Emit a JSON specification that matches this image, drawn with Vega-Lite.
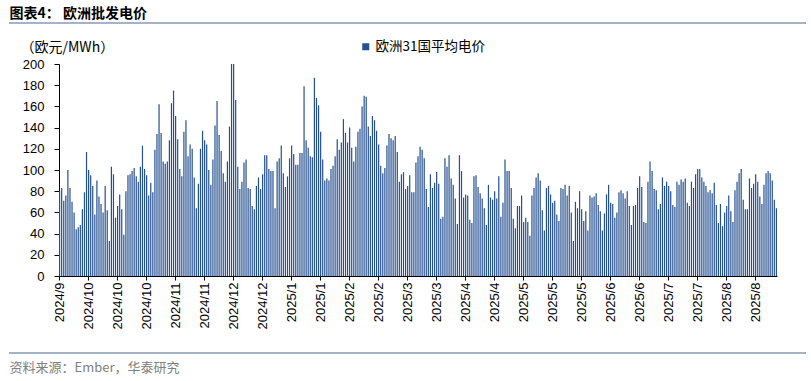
{
  "$schema": "https://vega.github.io/schema/vega-lite/v6.json",
  "background": "white",
  "padding": {"left": 8, "right": 8, "top": 5, "bottom": 2},
  "config": {
    "view": {"stroke": null},
    "axis": {"grid": false},
    "font": "Liberation Sans"
  },
  "datasets": {
    "price": [
      {"d":"2024-09-19","v":80},{"d":"2024-09-20","v":83},{"d":"2024-09-21","v":71},{"d":"2024-09-22","v":76},{"d":"2024-09-23","v":100},{"d":"2024-09-24","v":83},{"d":"2024-09-25","v":70},{"d":"2024-09-26","v":60},{"d":"2024-09-27","v":44},{"d":"2024-09-28","v":46},{"d":"2024-09-29","v":48},{"d":"2024-09-30","v":63},
      {"d":"2024-10-01","v":79},{"d":"2024-10-02","v":117},{"d":"2024-10-03","v":100},{"d":"2024-10-04","v":95},{"d":"2024-10-05","v":85},{"d":"2024-10-06","v":58},{"d":"2024-10-07","v":90},{"d":"2024-10-08","v":75},{"d":"2024-10-09","v":68},{"d":"2024-10-10","v":60},{"d":"2024-10-11","v":85},{"d":"2024-10-12","v":62},{"d":"2024-10-13","v":33},{"d":"2024-10-14","v":103},{"d":"2024-10-15","v":96},{"d":"2024-10-16","v":55},{"d":"2024-10-17","v":66},{"d":"2024-10-18","v":77},{"d":"2024-10-19","v":63},{"d":"2024-10-20","v":39},{"d":"2024-10-21","v":80},{"d":"2024-10-22","v":95},{"d":"2024-10-23","v":96},{"d":"2024-10-24","v":99},{"d":"2024-10-25","v":102},{"d":"2024-10-26","v":94},{"d":"2024-10-27","v":89},{"d":"2024-10-28","v":103},{"d":"2024-10-29","v":123},{"d":"2024-10-30","v":101},{"d":"2024-10-31","v":95},
      {"d":"2024-11-01","v":76},{"d":"2024-11-02","v":88},{"d":"2024-11-03","v":79},{"d":"2024-11-04","v":119},{"d":"2024-11-05","v":134},{"d":"2024-11-06","v":162},{"d":"2024-11-07","v":135},{"d":"2024-11-08","v":108},{"d":"2024-11-09","v":106},{"d":"2024-11-10","v":108},{"d":"2024-11-11","v":128},{"d":"2024-11-12","v":163},{"d":"2024-11-13","v":175},{"d":"2024-11-14","v":151},{"d":"2024-11-15","v":129},{"d":"2024-11-16","v":101},{"d":"2024-11-17","v":94},{"d":"2024-11-18","v":136},{"d":"2024-11-19","v":147},{"d":"2024-11-20","v":113},{"d":"2024-11-21","v":124},{"d":"2024-11-22","v":120},{"d":"2024-11-23","v":93},{"d":"2024-11-24","v":64},{"d":"2024-11-25","v":87},{"d":"2024-11-26","v":120},{"d":"2024-11-27","v":137},{"d":"2024-11-28","v":128},{"d":"2024-11-29","v":124},{"d":"2024-11-30","v":100},
      {"d":"2024-12-01","v":86},{"d":"2024-12-02","v":110},{"d":"2024-12-03","v":142},{"d":"2024-12-04","v":165},{"d":"2024-12-05","v":133},{"d":"2024-12-06","v":118},{"d":"2024-12-07","v":97},{"d":"2024-12-08","v":89},{"d":"2024-12-09","v":108},{"d":"2024-12-10","v":141},{"d":"2024-12-11","v":200},{"d":"2024-12-12","v":200},{"d":"2024-12-13","v":166},{"d":"2024-12-14","v":103},{"d":"2024-12-15","v":82},{"d":"2024-12-16","v":89},{"d":"2024-12-17","v":107},{"d":"2024-12-18","v":110},{"d":"2024-12-19","v":83},{"d":"2024-12-20","v":82},{"d":"2024-12-21","v":66},{"d":"2024-12-22","v":63},{"d":"2024-12-23","v":85},{"d":"2024-12-24","v":93},{"d":"2024-12-25","v":82},{"d":"2024-12-26","v":96},{"d":"2024-12-27","v":114},{"d":"2024-12-28","v":114},{"d":"2024-12-29","v":101},{"d":"2024-12-30","v":99},{"d":"2024-12-31","v":99},
      {"d":"2025-01-01","v":64},{"d":"2025-01-02","v":108},{"d":"2025-01-03","v":111},{"d":"2025-01-04","v":123},{"d":"2025-01-05","v":97},{"d":"2025-01-06","v":84},{"d":"2025-01-07","v":94},{"d":"2025-01-08","v":111},{"d":"2025-01-09","v":123},{"d":"2025-01-10","v":115},{"d":"2025-01-11","v":105},{"d":"2025-01-12","v":105},{"d":"2025-01-13","v":116},{"d":"2025-01-14","v":116},{"d":"2025-01-15","v":179},{"d":"2025-01-16","v":128},{"d":"2025-01-17","v":121},{"d":"2025-01-18","v":113},{"d":"2025-01-19","v":112},{"d":"2025-01-20","v":187},{"d":"2025-01-21","v":168},{"d":"2025-01-22","v":161},{"d":"2025-01-23","v":136},{"d":"2025-01-24","v":110},{"d":"2025-01-25","v":90},{"d":"2025-01-26","v":92},{"d":"2025-01-27","v":90},{"d":"2025-01-28","v":101},{"d":"2025-01-29","v":104},{"d":"2025-01-30","v":113},{"d":"2025-01-31","v":129},
      {"d":"2025-02-01","v":119},{"d":"2025-02-02","v":126},{"d":"2025-02-03","v":148},{"d":"2025-02-04","v":135},{"d":"2025-02-05","v":126},{"d":"2025-02-06","v":140},{"d":"2025-02-07","v":121},{"d":"2025-02-08","v":108},{"d":"2025-02-09","v":122},{"d":"2025-02-10","v":136},{"d":"2025-02-11","v":139},{"d":"2025-02-12","v":160},{"d":"2025-02-13","v":170},{"d":"2025-02-14","v":169},{"d":"2025-02-15","v":141},{"d":"2025-02-16","v":132},{"d":"2025-02-17","v":151},{"d":"2025-02-18","v":147},{"d":"2025-02-19","v":137},{"d":"2025-02-20","v":124},{"d":"2025-02-21","v":104},{"d":"2025-02-22","v":97},{"d":"2025-02-23","v":102},{"d":"2025-02-24","v":123},{"d":"2025-02-25","v":134},{"d":"2025-02-26","v":130},{"d":"2025-02-27","v":128},{"d":"2025-02-28","v":132},
      {"d":"2025-03-01","v":117},{"d":"2025-03-02","v":89},{"d":"2025-03-03","v":96},{"d":"2025-03-04","v":98},{"d":"2025-03-05","v":82},{"d":"2025-03-06","v":85},{"d":"2025-03-07","v":95},{"d":"2025-03-08","v":79},{"d":"2025-03-09","v":79},{"d":"2025-03-10","v":107},{"d":"2025-03-11","v":113},{"d":"2025-03-12","v":122},{"d":"2025-03-13","v":119},{"d":"2025-03-14","v":111},{"d":"2025-03-15","v":82},{"d":"2025-03-16","v":65},{"d":"2025-03-17","v":96},{"d":"2025-03-18","v":83},{"d":"2025-03-19","v":88},{"d":"2025-03-20","v":98},{"d":"2025-03-21","v":87},{"d":"2025-03-22","v":54},{"d":"2025-03-23","v":56},{"d":"2025-03-24","v":111},{"d":"2025-03-25","v":103},{"d":"2025-03-26","v":114},{"d":"2025-03-27","v":92},{"d":"2025-03-28","v":86},{"d":"2025-03-29","v":73},{"d":"2025-03-30","v":49},{"d":"2025-03-31","v":114},
      {"d":"2025-04-01","v":99},{"d":"2025-04-02","v":74},{"d":"2025-04-03","v":77},{"d":"2025-04-04","v":76},{"d":"2025-04-05","v":53},{"d":"2025-04-06","v":50},{"d":"2025-04-07","v":94},{"d":"2025-04-08","v":95},{"d":"2025-04-09","v":84},{"d":"2025-04-10","v":78},{"d":"2025-04-11","v":73},{"d":"2025-04-12","v":64},{"d":"2025-04-13","v":48},{"d":"2025-04-14","v":86},{"d":"2025-04-15","v":74},{"d":"2025-04-16","v":72},{"d":"2025-04-17","v":80},{"d":"2025-04-18","v":73},{"d":"2025-04-19","v":94},{"d":"2025-04-20","v":56},{"d":"2025-04-21","v":69},{"d":"2025-04-22","v":110},{"d":"2025-04-23","v":99},{"d":"2025-04-24","v":99},{"d":"2025-04-25","v":83},{"d":"2025-04-26","v":54},{"d":"2025-04-27","v":45},{"d":"2025-04-28","v":66},{"d":"2025-04-29","v":66},{"d":"2025-04-30","v":76},
      {"d":"2025-05-01","v":51},{"d":"2025-05-02","v":55},{"d":"2025-05-03","v":51},{"d":"2025-05-04","v":38},{"d":"2025-05-05","v":76},{"d":"2025-05-06","v":83},{"d":"2025-05-07","v":93},{"d":"2025-05-08","v":97},{"d":"2025-05-09","v":90},{"d":"2025-05-10","v":62},{"d":"2025-05-11","v":43},{"d":"2025-05-12","v":83},{"d":"2025-05-13","v":85},{"d":"2025-05-14","v":77},{"d":"2025-05-15","v":69},{"d":"2025-05-16","v":71},{"d":"2025-05-17","v":58},{"d":"2025-05-18","v":52},{"d":"2025-05-19","v":83},{"d":"2025-05-20","v":82},{"d":"2025-05-21","v":86},{"d":"2025-05-22","v":76},{"d":"2025-05-23","v":85},{"d":"2025-05-24","v":60},{"d":"2025-05-25","v":33},{"d":"2025-05-26","v":70},{"d":"2025-05-27","v":64},{"d":"2025-05-28","v":80},{"d":"2025-05-29","v":63},{"d":"2025-05-30","v":52},{"d":"2025-05-31","v":61},
      {"d":"2025-06-01","v":43},{"d":"2025-06-02","v":76},{"d":"2025-06-03","v":74},{"d":"2025-06-04","v":75},{"d":"2025-06-05","v":78},{"d":"2025-06-06","v":67},{"d":"2025-06-07","v":61},{"d":"2025-06-08","v":43},{"d":"2025-06-09","v":59},{"d":"2025-06-10","v":77},{"d":"2025-06-11","v":86},{"d":"2025-06-12","v":69},{"d":"2025-06-13","v":68},{"d":"2025-06-14","v":55},{"d":"2025-06-15","v":60},{"d":"2025-06-16","v":79},{"d":"2025-06-17","v":81},{"d":"2025-06-18","v":78},{"d":"2025-06-19","v":73},{"d":"2025-06-20","v":80},{"d":"2025-06-21","v":66},{"d":"2025-06-22","v":48},{"d":"2025-06-23","v":66},{"d":"2025-06-24","v":67},{"d":"2025-06-25","v":83},{"d":"2025-06-26","v":94},{"d":"2025-06-27","v":84},{"d":"2025-06-28","v":51},{"d":"2025-06-29","v":50},{"d":"2025-06-30","v":89},
      {"d":"2025-07-01","v":108},{"d":"2025-07-02","v":99},{"d":"2025-07-03","v":82},{"d":"2025-07-04","v":81},{"d":"2025-07-05","v":63},{"d":"2025-07-06","v":68},{"d":"2025-07-07","v":93},{"d":"2025-07-08","v":85},{"d":"2025-07-09","v":89},{"d":"2025-07-10","v":85},{"d":"2025-07-11","v":80},{"d":"2025-07-12","v":67},{"d":"2025-07-13","v":65},{"d":"2025-07-14","v":89},{"d":"2025-07-15","v":86},{"d":"2025-07-16","v":91},{"d":"2025-07-17","v":89},{"d":"2025-07-18","v":92},{"d":"2025-07-19","v":69},{"d":"2025-07-20","v":66},{"d":"2025-07-21","v":89},{"d":"2025-07-22","v":83},{"d":"2025-07-23","v":96},{"d":"2025-07-24","v":101},{"d":"2025-07-25","v":101},{"d":"2025-07-26","v":93},{"d":"2025-07-27","v":89},{"d":"2025-07-28","v":85},{"d":"2025-07-29","v":79},{"d":"2025-07-30","v":81},{"d":"2025-07-31","v":78},
      {"d":"2025-08-01","v":88},{"d":"2025-08-02","v":67},{"d":"2025-08-03","v":50},{"d":"2025-08-04","v":68},{"d":"2025-08-05","v":47},{"d":"2025-08-06","v":60},{"d":"2025-08-07","v":66},{"d":"2025-08-08","v":76},{"d":"2025-08-09","v":61},{"d":"2025-08-10","v":51},{"d":"2025-08-11","v":81},{"d":"2025-08-12","v":89},{"d":"2025-08-13","v":97},{"d":"2025-08-14","v":101},{"d":"2025-08-15","v":72},{"d":"2025-08-16","v":63},{"d":"2025-08-17","v":63},{"d":"2025-08-18","v":92},{"d":"2025-08-19","v":83},{"d":"2025-08-20","v":87},{"d":"2025-08-21","v":96},{"d":"2025-08-22","v":89},{"d":"2025-08-23","v":75},{"d":"2025-08-24","v":68},{"d":"2025-08-25","v":86},{"d":"2025-08-26","v":97},{"d":"2025-08-27","v":99},{"d":"2025-08-28","v":97},{"d":"2025-08-29","v":90},{"d":"2025-08-30","v":72},{"d":"2025-08-31","v":64}
    ]
  },
  "spacing": 15,
  "vconcat": [
    {
      "width": 795,
      "height": 0.01,
      "view": {"stroke": "#a3b4ca", "strokeWidth": 2},
      "title": {"text": "图表4：  欧洲批发电价", "anchor": "start", "orient": "top", "offset": 2, "font": "Noto Sans CJK SC", "fontSize": 14, "fontWeight": "bold", "color": "#000000"},
      "data": {"values": [{}]},
      "mark": {"type": "rule", "opacity": 0},
      "encoding": {}
    },
    {
      "spacing": 22,
      "vconcat": [
        {
          "spacing": 0,
          "bounds": "flush",
          "resolve": {"scale": {"color": "independent", "y": "independent"}, "legend": {"color": "independent"}},
          "hconcat": [
            {
              "width": 49,
              "height": 212,
              "data": {"values": [{}]},
              "mark": {"type": "rule", "opacity": 0},
              "encoding": {
                "y": {
                  "datum": 0,
                  "type": "quantitative",
                  "scale": {"domain": [0, 200], "nice": false},
                  "axis": {
                    "offset": -49,
                    "values": [0, 20, 40, 60, 80, 100, 120, 140, 160, 180, 200],
                    "title": "（欧元/MWh）",
                    "titleAngle": 0,
                    "titleAlign": "left",
                    "titleBaseline": "middle",
                    "titleX": -39,
                    "titleY": -17,
                    "titleFont": "Noto Sans CJK SC",
                    "titleFontSize": 14,
                    "titleFontWeight": "normal",
                    "titleColor": "#000000",
                    "labelFont": "Liberation Sans",
                    "labelFontSize": 13,
                    "labelColor": "#000000",
                    "tickSize": 5,
                    "tickColor": "#000000",
                    "domainColor": "#000000",
                    "labelPadding": 10,
                    "grid": false
                  }
                }
              }
            },
            {
              "width": 718,
              "height": 212,
              "data": {"name": "price"},
              "mark": {"type": "bar", "clip": true},
              "encoding": {
                "x": {
                  "field": "d",
                  "type": "ordinal",
                  "scale": {"paddingInner": 0.42, "paddingOuter": 0},
                  "axis": {
                    "title": null,
                    "values": ["2024-09-19","2024-10-03","2024-10-17","2024-10-31","2024-11-14","2024-11-28","2024-12-12","2024-12-26","2025-01-09","2025-01-23","2025-02-06","2025-02-20","2025-03-06","2025-03-20","2025-04-03","2025-04-17","2025-05-01","2025-05-15","2025-05-29","2025-06-12","2025-06-26","2025-07-10","2025-07-24","2025-08-07","2025-08-21"],
                    "labelExpr": "replace(replace(slice(datum.value, 0, 7), '-0', '-'), '-', '/')",
                    "bandPosition": 0,
                    "labelAngle": -90,
                    "labelPadding": 2,
                    "labelOverlap": false,
                    "labelFont": "Liberation Sans",
                    "labelFontSize": 13,
                    "labelColor": "#000000",
                    "tickSize": 4,
                    "tickColor": "#000000",
                    "domainColor": "#000000"
                  }
                },
                "y": {
                  "field": "v",
                  "type": "quantitative",
                  "scale": {"domain": [0, 200], "nice": false},
                  "axis": null
                },
                "color": {
                  "datum": "欧洲31国平均电价",
                  "type": "nominal",
                  "scale": {"range": ["#24508f"]},
                  "legend": {
                    "orient": "none",
                    "legendX": 300,
                    "legendY": -24,
                    "title": null,
                    "symbolType": "square",
                    "symbolSize": 49,
                    "symbolStrokeWidth": 0,
                    "labelFont": "Noto Sans CJK SC",
                    "labelFontSize": 13.5,
                    "labelColor": "#000000",
                    "labelOffset": 3
                  }
                }
              }
            }
          ]
        },
        {
          "width": 795,
          "height": 0.01,
          "view": {"stroke": "#a3b4ca", "strokeWidth": 2},
          "title": {"text": "资料来源：Ember，华泰研究", "anchor": "start", "orient": "bottom", "offset": 8, "font": "Noto Sans CJK SC", "fontSize": 13, "fontWeight": "normal", "color": "#808080"},
          "data": {"values": [{}]},
          "mark": {"type": "rule", "opacity": 0},
          "encoding": {}
        }
      ]
    }
  ]
}
